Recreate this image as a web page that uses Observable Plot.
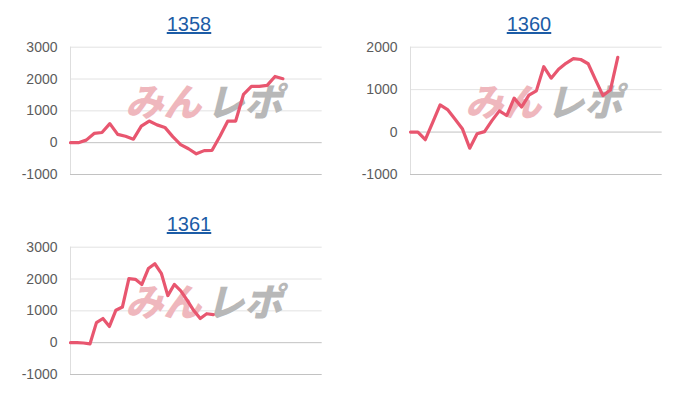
<!DOCTYPE html>
<html>
<head>
<meta charset="utf-8">
<script src="https://cdn.jsdelivr.net/npm/d3@7"></script>
<script src="https://cdn.jsdelivr.net/npm/@observablehq/plot@0.6"></script>
<style>
  html, body { margin: 0; padding: 0; background: #fff; }
  #wrap { position: relative; width: 700px; height: 400px; overflow: hidden; font-family: "Liberation Sans", Arial, sans-serif; }
  .title { position: absolute; width: 120px; text-align: center; font-size: 20px; line-height: 24px; color: #1c5ca6; text-decoration: underline; }
  .panel { position: absolute; }
</style>
</head>
<body>
<div id="wrap"></div>
<script>
// ---- data ----
const titles = ["1358", "1360", "1361"];
const values1358 = [0, 0, 80, 290, 320, 600, 260, 200, 110, 520, 680, 560, 480, 190, -60, -190, -350, -250, -240, 200, 680, 680, 1520, 1770, 1770, 1800, 2080, 2010];
const values1360 = [0, 0, -180, 230, 640, 530, 310, 80, -380, -40, 10, 270, 500, 390, 800, 590, 870, 970, 1540, 1270, 1480, 1620, 1730, 1710, 1610, 1230, 860, 990, 1760];
const values1361 = [0, 0, -10, -40, 630, 760, 510, 1020, 1120, 2010, 1990, 1830, 2330, 2480, 2180, 1480, 1830, 1630, 1330, 1010, 760, 910, 880];
const ticks1358 = [-1000, 0, 1000, 2000, 3000];
const ticks1360 = [-1000, 0, 1000, 2000];
const ticks1361 = [-1000, 0, 1000, 2000, 3000];
const watermark = ["みん", "レポ"];

// ---- layout ----
const wrap = document.getElementById("wrap");

function makeChart(values, ticks, xMax) {
  const yMin = d3.min(ticks), yMax = d3.max(ticks);
  return Plot.plot({
    width: 340,
    height: 150,
    marginLeft: 70,
    marginRight: 18.3,
    marginTop: 10.7,
    marginBottom: 12,
    style: { background: "transparent", fontFamily: "'Liberation Sans', Arial, sans-serif", fontSize: "14px", color: "#5c5c5c", overflow: "visible" },
    x: { domain: [0, xMax], axis: null },
    y: { domain: [yMin, yMax], ticks: ticks, tickFormat: d => String(d), tickSize: 0, tickPadding: 13, label: null },
    marks: [
      Plot.ruleY(ticks.filter(t => t !== 0 && t !== yMin), { stroke: "#e3e3e3", strokeWidth: 1 }),
      Plot.ruleY(ticks.filter(t => t === 0 || t === yMin), { stroke: "#c2c2c2", strokeWidth: 1 }),
      Plot.ruleX([0], { stroke: "#dedede", strokeWidth: 1 }),
      Plot.text([watermark[0]], { text: d => d, frameAnchor: "middle", dx: -33, dy: -7, fill: "#efb7bd", fontSize: 38, fontWeight: 900, fontStyle: "italic", fontFamily: "'Noto Sans CJK JP', sans-serif" }),
      Plot.text([watermark[1]], { text: d => d, frameAnchor: "middle", dx: 48, dy: -7, fill: "#b8b8b8", fontSize: 38, fontWeight: 900, fontStyle: "italic", fontFamily: "'Noto Sans CJK JP', sans-serif" }),
      Plot.line(values, { x: (d, i) => i, y: d => d, stroke: "#e8566f", strokeWidth: 3.2, strokeLinejoin: "round" })
    ]
  });
}

const panels = [
  { title: titles[0], values: values1358, ticks: ticks1358, xMax: 32, left: 0, top: 0 },
  { title: titles[1], values: values1360, ticks: ticks1360, xMax: 34, left: 340, top: 0 },
  { title: titles[2], values: values1361, ticks: ticks1361, xMax: 38.8, left: 0, top: 200 }
];

for (const p of panels) {
  const t = document.createElement("div");
  t.className = "title";
  t.textContent = p.title;
  t.style.left = (p.left + 189 - 60) + "px";
  t.style.top = (p.top + 12) + "px";
  wrap.appendChild(t);

  const holder = document.createElement("div");
  holder.className = "panel";
  holder.style.left = p.left + "px";
  holder.style.top = (p.top + 36) + "px";
  holder.appendChild(makeChart(p.values, p.ticks, p.xMax));
  wrap.appendChild(holder);
}
</script>
</body>
</html>
